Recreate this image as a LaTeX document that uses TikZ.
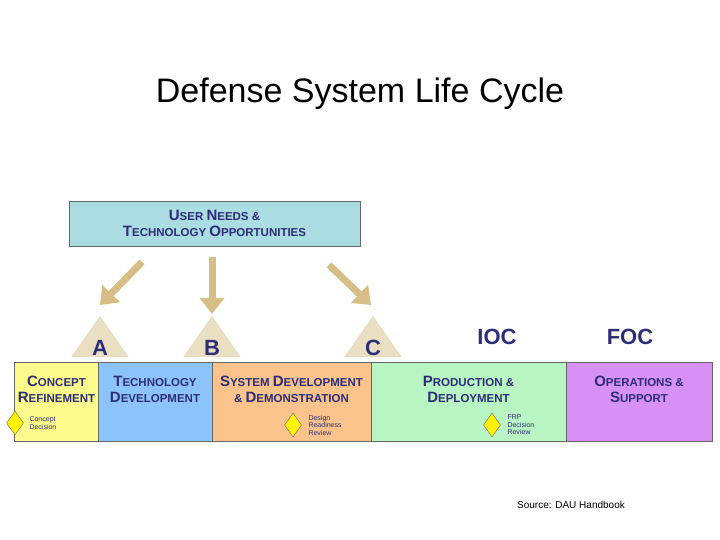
\documentclass[tikz,border=0pt]{standalone}
\usepackage{fontspec}
\setmainfont{Liberation Sans}
\usetikzlibrary{arrows.meta,shapes.geometric}
\definecolor{navy}{RGB}{45,45,120}
\definecolor{tanarrow}{RGB}{215,190,135}
\definecolor{needsfill}{RGB}{170,220,225}
\definecolor{techfill}{RGB}{140,195,250}
\definecolor{opsfill}{RGB}{215,145,245}
\definecolor{prodfill}{RGB}{185,245,195}
\definecolor{sddfill}{RGB}{250,195,140}
\definecolor{crfill}{RGB}{252,252,140}
\newcommand\capw[2]{{\fontsize{15}{15}\selectfont #1}#2}
\tikzset{
  phase/.style={draw=black!60,thick,text=navy,font=\bfseries\fontsize{11.5}{16}\selectfont,align=center},
  bigarrow/.style={line width=7pt,draw=tanarrow,-{Triangle[length=16pt,width=24pt]}},
  milestone/.style={isosceles triangle,isosceles triangle apex angle=70,shape border rotate=90,
    fill=tanarrow!50,draw=tanarrow!70,minimum height=40pt,inner sep=0pt},
  gate/.style={diamond,fill=yellow,draw=black!60,minimum width=17pt,minimum height=24pt,inner sep=0pt},
  note/.style={text=navy,font=\fontsize{7}{7.5}\selectfont,align=left,anchor=west},
  letter/.style={text=navy,font=\bfseries\fontsize{22}{22}\selectfont}
}
\begin{document}
\begin{tikzpicture}[x=1pt,y=-1pt]
  \useasboundingbox (0,0) rectangle (720,540);
  \node (title) at (360,94) {\fontsize{34}{40}\selectfont Defense System Life Cycle};
  % top box
  \node[phase,fill=needsfill,minimum width=291pt,minimum height=45pt] (needs) at (214.5,223.5)
    {\capw{U}{SER} \capw{N}{EEDS} \&\\ \capw{T}{ECHNOLOGY} \capw{O}{PPORTUNITIES}};
  % milestones
  \node[milestone] (msA) at (100,342) {};
  \node[milestone] (msB) at (212,342) {};
  \node[milestone] (msC) at (373,342) {};
  \node[letter] at (100,348) {A};
  \node[letter] at (212,348) {B};
  \node[letter] at (373,348) {C};
  \node[letter] (ioc) at (497,337) {IOC};
  \node[letter] (foc) at (630,337) {FOC};
  % arrows
  \coordinate (a1) at (142,262); \coordinate (a2) at (100,305);
  \coordinate (b1) at (212,257); \coordinate (b2) at (212,314);
  \coordinate (c1) at (329,265); \coordinate (c2) at (371,305);
  \draw[bigarrow] (a1) -- (a2);
  \draw[bigarrow] (b1) -- (b2);
  \draw[bigarrow] (c1) -- (c2);
  % phases
  \node[phase,fill=crfill,minimum width=83pt,minimum height=79pt,text height=34pt,text depth=32pt] (concept) at (56.5,401.5)
    {\capw{C}{ONCEPT}\\ \capw{R}{EFINEMENT}};
  \node[phase,fill=techfill,minimum width=114pt,minimum height=79pt,text height=34pt,text depth=32pt] (tech) at (155,401.5)
    {\capw{T}{ECHNOLOGY}\\ \capw{D}{EVELOPMENT}};
  \node[phase,fill=sddfill,minimum width=159pt,minimum height=79pt,text height=34pt,text depth=32pt] (sdd) at (291.5,401.5)
    {\capw{S}{YSTEM} \capw{D}{EVELOPMENT}\\ \& \capw{D}{EMONSTRATION}};
  \node[phase,fill=prodfill,minimum width=195pt,minimum height=79pt,text height=34pt,text depth=32pt] (prod) at (468.5,401.5)
    {\capw{P}{RODUCTION} \&\\ \capw{D}{EPLOYMENT}};
  \node[phase,fill=opsfill,minimum width=146pt,minimum height=79pt,text height=34pt,text depth=32pt] (ops) at (639,401.5)
    {\capw{O}{PERATIONS} \&\\ \capw{S}{UPPORT}};
  % decision points
  \node[gate] (cd) at (15,423) {};
  \node[note] at (26,423) {Concept\\Decision};
  \node[gate] (drr) at (293,425) {};
  \node[note] at (305,425) {Design\\Readiness\\Review};
  \node[gate] (frp) at (492,425) {};
  \node[note] at (504,425) {FRP\\Decision\\Review};
  \node (src) at (571,505) {\fontsize{10}{11}\selectfont Source: DAU Handbook};
\end{tikzpicture}
\end{document}
